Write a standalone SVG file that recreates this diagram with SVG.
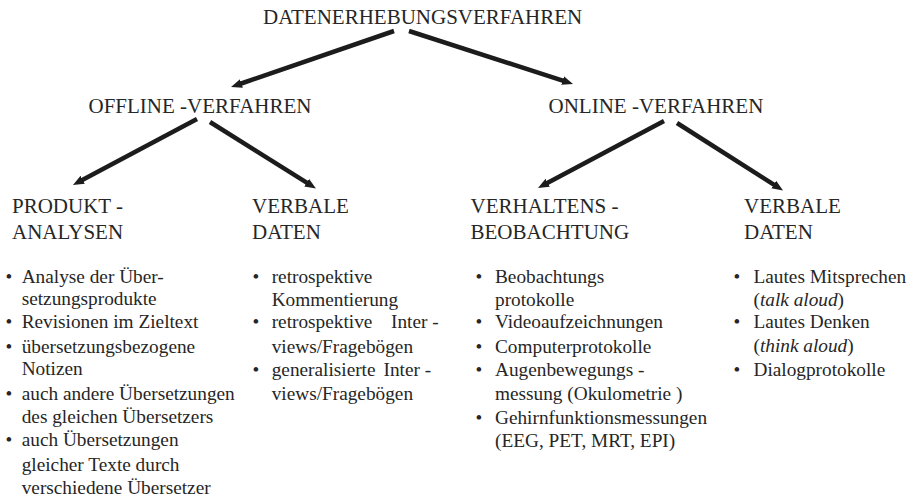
<svg xmlns="http://www.w3.org/2000/svg" width="913" height="499" viewBox="0 0 913 499">
<style>
text{font-family:"Liberation Serif","Times New Roman",serif;fill:#262626}
.h{font-size:21px}
.b{font-size:19.3px}
.dot{font-size:19.3px;text-anchor:middle}
.arr{stroke:#1c1c1c;stroke-width:4.5;fill:none;marker-end:url(#ah)}
</style>
<defs>
<marker id="ah" markerUnits="userSpaceOnUse" markerWidth="12" markerHeight="10" refX="1" refY="4.5" orient="auto">
<path d="M0,0 L11,4.5 L0,9 z" fill="#1c1c1c"/>
</marker>
</defs>
<rect width="913" height="499" fill="#ffffff"/>
<g id="connectors">
<line class="arr" x1="394" y1="31" x2="240.5" y2="83.75"/>
<line class="arr" x1="409" y1="31" x2="563.5" y2="80.9"/>
<line class="arr" x1="197" y1="119" x2="81.8" y2="180.3"/>
<line class="arr" x1="210" y1="122" x2="307.5" y2="183.2"/>
<line class="arr" x1="664" y1="121" x2="546.8" y2="183.3"/>
<line class="arr" x1="677" y1="123" x2="774.6" y2="185.1"/>
</g>
<g id="root"><text class="h" x="263" y="24">DATENERHEBUNGSVERFAHREN</text></g>
<g id="offline"><text class="h" x="88.5" y="112.7">OFFLINE -VERFAHREN</text></g>
<g id="online"><text class="h" x="548.5" y="112.7">ONLINE -VERFAHREN</text></g>
<g id="produkt">
<text class="h" x="12" y="213.3">PRODUKT -</text>
<text class="h" x="12" y="239.3">ANALYSEN</text>
<text class="dot" x="9" y="283.3">•</text>
<text class="b" x="21.7" y="283.3">Analyse der Über-</text>
<text class="b" x="21.7" y="305.4">setzungsprodukte</text>
<text class="dot" x="9" y="328.3">•</text>
<text class="b" x="21.7" y="328.3">Revisionen im Zieltext</text>
<text class="dot" x="9" y="352.5">•</text>
<text class="b" x="21.7" y="352.5">übersetzungsbezogene</text>
<text class="b" x="21.7" y="375.2">Notizen</text>
<text class="dot" x="9" y="400.2">•</text>
<text class="b" x="21.7" y="400.2">auch andere Übersetzungen</text>
<text class="b" x="21.7" y="422.8">des gleichen Übersetzers</text>
<text class="dot" x="9" y="446.2">•</text>
<text class="b" x="21.7" y="446.2">auch Übersetzungen</text>
<text class="b" x="21.7" y="471.3">gleicher Texte durch</text>
<text class="b" x="21.7" y="493.7">verschiedene Übersetzer</text>
</g>
<g id="verbal-offline">
<text class="h" x="252" y="213.3">VERBALE</text>
<text class="h" x="252" y="239.3">DATEN</text>
<text class="dot" x="256" y="283.3">•</text>
<text class="b" x="271.7" y="283.3">retrospektive</text>
<text class="b" x="271.7" y="305.5">Kommentierung</text>
<text class="dot" x="256" y="328.3">•</text>
<text class="b" y="328.3"><tspan x="271.7">retrospektive</tspan><tspan x="391">Inter -</tspan></text>
<text class="b" x="271.7" y="352.5">views/Fragebögen</text>
<text class="dot" x="256" y="375.7">•</text>
<text class="b" y="375.7"><tspan x="271.7">generalisierte</tspan><tspan x="383.5">Inter -</tspan></text>
<text class="b" x="271.7" y="400.4">views/Fragebögen</text>
</g>
<g id="verhalten">
<text class="h" x="470.5" y="213.3">VERHALTENS -</text>
<text class="h" x="470.5" y="239.3">BEOBACHTUNG</text>
<text class="dot" x="479" y="283.3">•</text>
<text class="b" x="495" y="283.3">Beobachtungs</text>
<text class="b" x="495" y="305.5">protokolle</text>
<text class="dot" x="479" y="328.3">•</text>
<text class="b" x="495" y="328.3">Videoaufzeichnungen</text>
<text class="dot" x="479" y="352.8">•</text>
<text class="b" x="495" y="352.8">Computerprotokolle</text>
<text class="dot" x="479" y="376.2">•</text>
<text class="b" x="495" y="376.2">Augenbewegungs -</text>
<text class="b" x="495" y="399.8">messung (Okulometrie )</text>
<text class="dot" x="479" y="423.6">•</text>
<text class="b" x="495" y="423.6">Gehirnfunktionsmessungen</text>
<text class="b" x="495" y="447">(EEG, PET, MRT, EPI)</text>
</g>
<g id="verbal-online">
<text class="h" x="744" y="213.3">VERBALE</text>
<text class="h" x="744" y="239.3">DATEN</text>
<text class="dot" x="737" y="283.3">•</text>
<text class="b" x="753.5" y="283.3">Lautes Mitsprechen</text>
<text class="b" x="753.5" y="305.5">(<tspan font-style="italic">talk aloud</tspan>)</text>
<text class="dot" x="737" y="328.3">•</text>
<text class="b" x="753.5" y="328.3">Lautes Denken</text>
<text class="b" x="753.5" y="352">(<tspan font-style="italic">think aloud</tspan>)</text>
<text class="dot" x="737" y="375.5">•</text>
<text class="b" x="753.5" y="375.5">Dialogprotokolle</text>
</g>
</svg>
